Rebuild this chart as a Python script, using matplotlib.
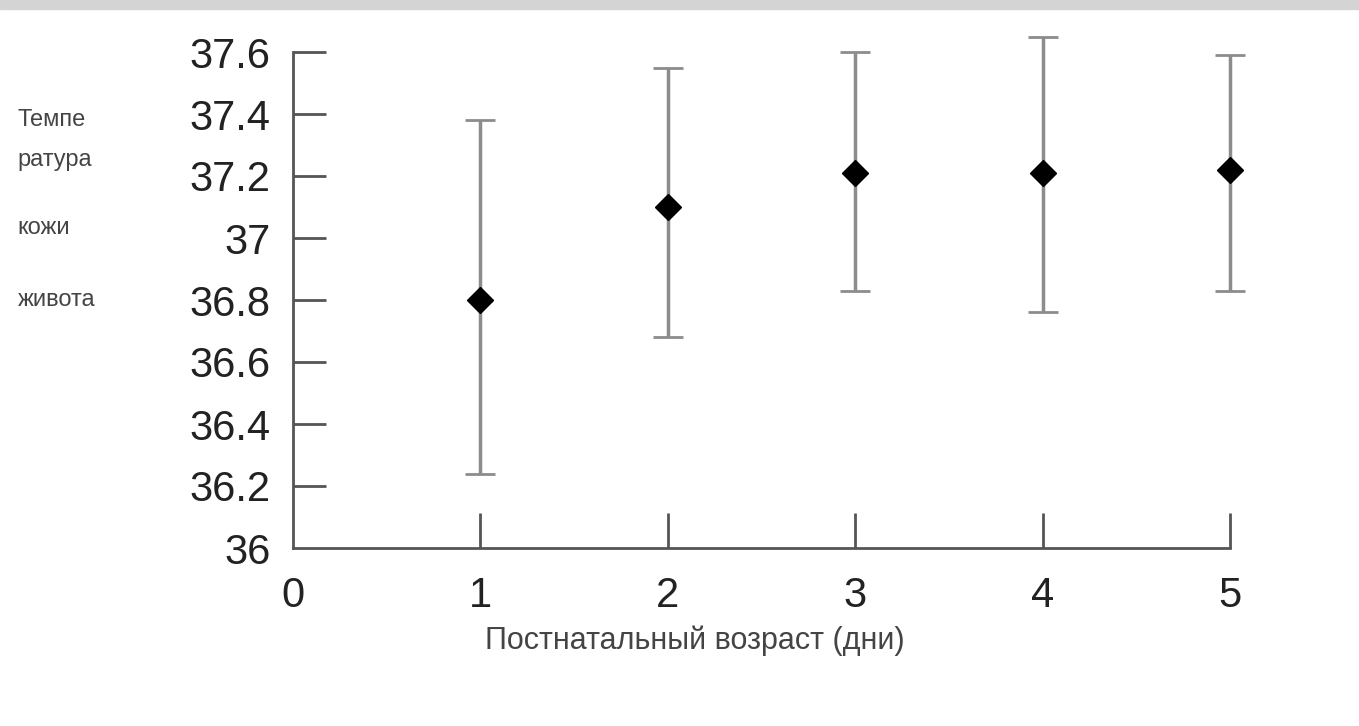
import numpy as np
import matplotlib
matplotlib.use("Agg")
import matplotlib.pyplot as plt
from matplotlib.patches import Rectangle

plt.rcParams['font.family'] = ['Liberation Sans', 'DejaVu Sans']

# postnatal day, mean temperature and whisker ends
days = [1, 2, 3, 4, 5]
mean_t = [36.80, 37.10, 37.21, 37.21, 37.22]
upper_t = [37.38, 37.55, 37.60, 37.65, 37.59]
lower_t = [36.24, 36.68, 36.83, 36.76, 36.83]

yticks = [36, 36.2, 36.4, 36.6, 36.8, 37, 37.2, 37.4, 37.6]
ytick_labels = ["36", "36.2", "36.4", "36.6", "36.8", "37", "37.2", "37.4", "37.6"]
xticks = [0, 1, 2, 3, 4, 5]
xtick_labels = ["0", "1", "2", "3", "4", "5"]

ylabel_lines = ["Темпе", "ратура", "кожи", "живота"]
ylabel_pos = [0.835, 0.78, 0.686, 0.587]
xlabel = "Постнатальный возраст (дни)"

fig = plt.figure(figsize=(13.59, 7.26), dpi=100)
ax = fig.add_axes([293/1359, 1-548/726, (1230-293)/1359, (548-52)/726])

mean_a = np.array(mean_t)
yerr = [mean_a - np.array(lower_t), np.array(upper_t) - mean_a]
eb = ax.errorbar(days, mean_t, yerr=yerr, fmt='D', color='black', markersize=13,
                 ecolor='#8c8c8c', elinewidth=2.5, capsize=11, capthick=2,
                 clip_on=False, zorder=3)
for art in eb.lines[1]:
    art.set_clip_on(False)
    art.set_color('#555555')
for art in eb.lines[2]:
    art.set_clip_on(False)

ax.set_xlim(0, 5)
ax.set_ylim(36, 37.6)
for s in ['top', 'right']:
    ax.spines[s].set_visible(False)
for s in ['left', 'bottom']:
    ax.spines[s].set_color('#555555')
    ax.spines[s].set_linewidth(2)

ax.set_yticks(yticks)
ax.set_yticklabels(ytick_labels)
ax.set_xticks(xticks)
ax.set_xticklabels(xtick_labels)
ax.tick_params(axis='y', direction='in', length=24, width=2, color='#555555',
               pad=16, labelsize=30, labelcolor='#222222')
ax.tick_params(axis='x', direction='in', length=25, width=2, color='#555555',
               pad=20, labelsize=30, labelcolor='#222222')
ax.yaxis.get_major_ticks()[0].tick1line.set_visible(False)
ax.xaxis.get_major_ticks()[0].tick1line.set_visible(False)

fig.text(0.511, 0.118, xlabel, ha='center', va='center', fontsize=22, color='#444444')
for line, yp in zip(ylabel_lines, ylabel_pos):
    fig.text(0.013, yp, line, ha='left', va='center', fontsize=17, color='#444444')

fig.add_artist(Rectangle((0, 1-9/726), 1, 9/726, transform=fig.transFigure,
                         color='#d4d4d4', zorder=0))

fig.savefig("out.png", dpi=100)
